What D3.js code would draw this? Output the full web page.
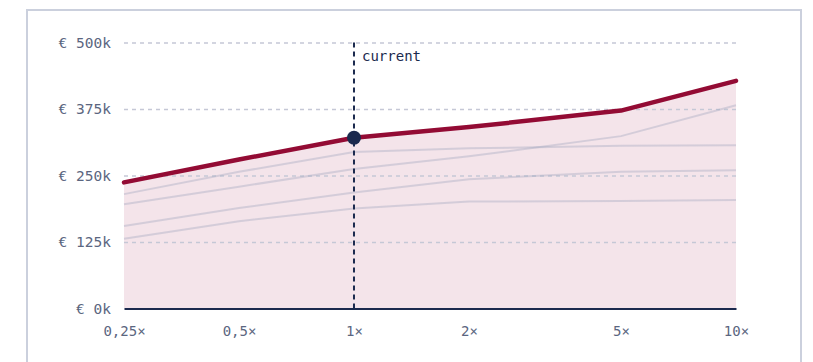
<!DOCTYPE html>
<html>
<head>
<meta charset="utf-8">
<script src="https://cdn.jsdelivr.net/npm/d3@7"></script>
<style>
  html, body { margin: 0; padding: 0; background: #ffffff; }
  svg { display: block; }
</style>
</head>
<body>
<svg id="chart" width="813" height="362"></svg>
<script>
// Price multiples on a log axis
const multiples = [0.25, 0.5, 1, 2, 5, 10];
const multipleLabels = ["0,25×", "0,5×", "1×", "2×", "5×", "10×"];

// Highlighted scenario (thousand €)
const mainSeries = [237, 280, 321, 341, 372, 428];

// Comparison scenarios (thousand €)
const otherA = [215, 257, 294, 301, 306, 307];
const otherB = [196, 229, 262, 286, 324, 382];
const otherC = [155, 189, 218, 243, 257, 260];
const otherD = [131, 164, 188, 201, 202, 204];

const yTicks = [0, 125, 250, 375, 500];
const currentMultiple = 1;
const currentLabel = "current";

const svg = d3.select("#chart");
const plot = { left: 124, right: 736, top: 42.5, bottom: 308.5 };

const navy = "#1b2a4e";
const wine = "#930b34";
const font = "'DejaVu Sans Mono', monospace";

// Card frame
svg.append("rect")
  .attr("x", 27).attr("y", 10)
  .attr("width", 774).attr("height", 380)
  .attr("fill", "#ffffff")
  .attr("stroke", "#cbd0dd").attr("stroke-width", 2);

const x = d3.scaleLog().domain([0.25, 10]).range([plot.left, plot.right]);
const y = d3.scaleLinear().domain([0, 500]).range([plot.bottom, plot.top]);

const pts = s => s.map((v, i) => [multiples[i], v]);

// Filled area below the highlighted scenario
svg.append("path")
  .datum(pts(mainSeries))
  .attr("fill", "#f4e4ea")
  .attr("d", d3.area().x(d => x(d[0])).y0(y(0)).y1(d => y(d[1])));

// Horizontal grid
const yAxis = d3.axisLeft(y).tickValues(yTicks)
  .tickSize(-(plot.right - plot.left)).tickPadding(13)
  .tickFormat(d => "€ " + d + "k");
const gy = svg.append("g").attr("transform", `translate(${plot.left},0)`).call(yAxis);
gy.select(".domain").remove();
gy.selectAll(".tick line")
  .attr("stroke", "#c5c8d6").attr("stroke-width", 1.5)
  .attr("stroke-dasharray", "4,4")
  .attr("stroke-opacity", d => d === 0 ? 0 : 1);
gy.selectAll(".tick text")
  .attr("fill", "#5b6680").attr("font-family", font).attr("font-size", 14.5);

// Comparison lines
const line = d3.line().x(d => x(d[0])).y(d => y(d[1]));
[otherA, otherB, otherC, otherD].forEach(s => {
  svg.append("path")
    .datum(pts(s))
    .attr("fill", "none")
    .attr("stroke", "rgba(160,165,190,0.38)")
    .attr("stroke-width", 2)
    .attr("d", line);
});

// Baseline and x axis labels
const xAxis = d3.axisBottom(x).tickValues(multiples)
  .tickSize(0).tickPadding(18)
  .tickFormat(d => multipleLabels[multiples.indexOf(d)]);
const gx = svg.append("g").attr("transform", `translate(0,${plot.bottom})`).call(xAxis);
gx.select(".domain").attr("stroke", navy).attr("stroke-width", 2);
gx.selectAll(".tick text")
  .attr("fill", "#5b6680").attr("font-family", font).attr("font-size", 14);

// Current marker
svg.append("line")
  .attr("x1", x(currentMultiple)).attr("x2", x(currentMultiple))
  .attr("y1", y(500)).attr("y2", y(0))
  .attr("stroke", navy).attr("stroke-width", 2)
  .attr("stroke-dasharray", "5,4");

svg.append("text")
  .attr("x", x(currentMultiple) + 8).attr("y", y(500) + 18)
  .attr("fill", navy).attr("font-family", font).attr("font-size", 14)
  .text(currentLabel);

// Highlighted scenario line
svg.append("path")
  .datum(pts(mainSeries))
  .attr("fill", "none")
  .attr("stroke", wine).attr("stroke-width", 4.5)
  .attr("stroke-linecap", "round").attr("stroke-linejoin", "round")
  .attr("d", line);

svg.append("circle")
  .attr("cx", x(currentMultiple))
  .attr("cy", y(mainSeries[multiples.indexOf(currentMultiple)]))
  .attr("r", 7).attr("fill", navy);
</script>
</body>
</html>
